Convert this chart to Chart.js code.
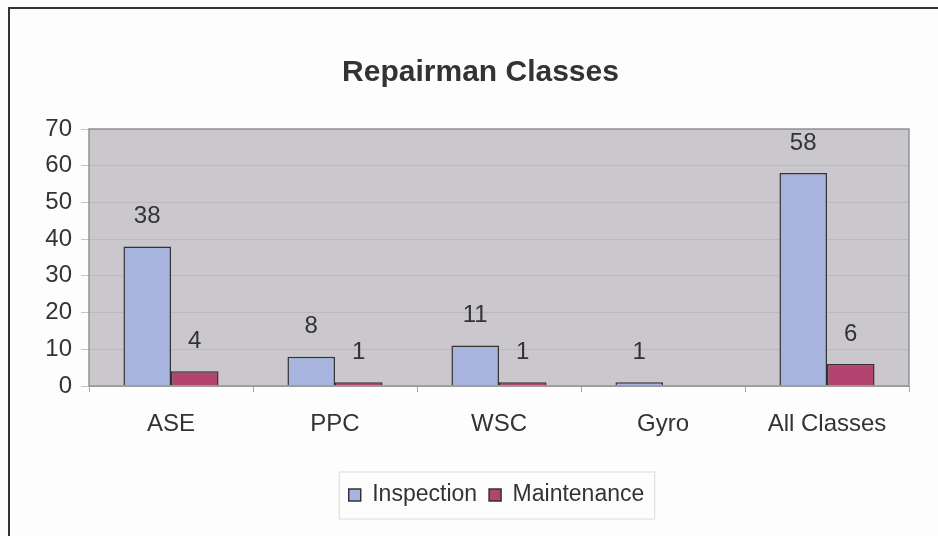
<!DOCTYPE html>
<html>
<head>
<meta charset="utf-8">
<script src="https://cdn.jsdelivr.net/npm/chart.js@4/dist/chart.umd.min.js"></script>
<style>
  html, body { margin: 0; padding: 0; background: #fdfdfd; overflow: hidden; }
  #wrap { position: relative; width: 938px; height: 536px; }
  #frame { position: absolute; left: 8px; top: 7px; right: -10px; bottom: -10px;
           border-top: 2px solid #333; border-left: 2px solid #333; pointer-events: none; }
</style>
</head>
<body>
<div id="wrap">
  <canvas id="repairChart" width="938" height="536"></canvas>
  <div id="frame"></div>
</div>
<script>
var categories = ['ASE', 'PPC', 'WSC', 'Gyro', 'All Classes'];
var inspection = [38, 8, 11, 1, 58];
var maintenance = [4, 1, 1, null, 6];
var yTicks = [0, 10, 20, 30, 40, 50, 60, 70];

var textColor = '#333333';
var baseFont = 'Liberation Sans, Arial, sans-serif';

// gray plot area with a thin border, title and legend nudged right like the original
var plotBackground = {
  id: 'plotBackground',
  afterLayout: function (chart) {
    if (chart.titleBlock) { chart.titleBlock.left += 26; chart.titleBlock.right += 26; }
    if (chart.legend) { chart.legend.left += 42; chart.legend.right += 42; }
  },
  beforeDraw: function (chart) {
    var a = chart.chartArea, ctx = chart.ctx;
    ctx.save();
    ctx.fillStyle = '#cbc8cd';
    ctx.fillRect(a.left, a.top, a.right - a.left, a.bottom - a.top);
    ctx.restore();
  },
  afterDatasetsDraw: function (chart) {
    var a = chart.chartArea, ctx = chart.ctx;
    ctx.save();
    ctx.strokeStyle = '#929292';
    ctx.lineWidth = 1.5;
    ctx.strokeRect(a.left, a.top, a.right - a.left, a.bottom - a.top);
    ctx.restore();
  }
};

// value labels above bars
var valueLabels = {
  id: 'valueLabels',
  afterDatasetsDraw: function (chart) {
    var ctx = chart.ctx;
    ctx.save();
    ctx.font = '24px ' + baseFont;
    ctx.fillStyle = textColor;
    ctx.textAlign = 'center';
    ctx.textBaseline = 'middle';
    chart.data.datasets.forEach(function (ds, i) {
      chart.getDatasetMeta(i).data.forEach(function (bar, j) {
        var v = ds.data[j];
        if (v === null || v === 0) return;
        ctx.fillText(String(v), bar.x, bar.y - 30);
      });
    });
    ctx.restore();
  }
};

// light frame round the legend
var legendFrame = {
  id: 'legendFrame',
  afterDraw: function (chart) {
    var boxes = chart.legend.legendHitBoxes;
    if (!boxes || !boxes.length) return;
    var left = Math.min.apply(null, boxes.map(function (b) { return b.left; }));
    var right = Math.max.apply(null, boxes.map(function (b) { return b.left + b.width; }));
    var top = boxes[0].top, bottom = boxes[0].top + boxes[0].height;
    var ctx = chart.ctx;
    ctx.save();
    ctx.strokeStyle = '#dcdcdc';
    ctx.lineWidth = 1;
    ctx.strokeRect(left - 9.5, top - 11.5, right - left + 20, bottom - top + 24);
    ctx.restore();
  }
};

var ctx = document.getElementById('repairChart');
var repairChart = new Chart(ctx, {
  type: 'bar',
  data: {
    labels: categories,
    datasets: [{
      label: 'Inspection',
      data: inspection,
      backgroundColor: '#a7b4de',
      borderColor: '#333333',
      borderWidth: 1.5,
      barPercentage: 1,
      categoryPercentage: 0.58
    }, {
      label: 'Maintenance',
      data: maintenance,
      backgroundColor: '#b3436f',
      borderColor: '#333333',
      borderWidth: 1.5,
      barPercentage: 1,
      categoryPercentage: 0.58
    }]
  },
  options: {
    responsive: false,
    animation: false,
    layout: { padding: { left: 0, right: 29, top: 0, bottom: 19.5 } },
    plugins: {
      title: {
        display: true,
        text: 'Repairman Classes',
        color: textColor,
        font: { family: baseFont, size: 30, weight: 'bold' },
        padding: { top: 55, bottom: 38 }
      },
      legend: {
        position: 'bottom',
        labels: {
          color: textColor,
          font: { family: baseFont, size: 23 },
          boxWidth: 12,
          boxHeight: 12,
          padding: 12
        }
      },
      tooltip: { enabled: false }
    },
    scales: {
      x: {
        grid: { display: true, drawOnChartArea: false, tickLength: 6, color: '#a8a8a8', offset: true },
        border: { display: false },
        ticks: { color: textColor, font: { family: baseFont, size: 24 }, padding: 18 },
        afterFit: function (scale) { scale.height = 85.5; }
      },
      y: {
        min: 0,
        max: 70,
        afterBuildTicks: function (scale) {
          scale.ticks = yTicks.map(function (v) { return { value: v }; });
        },
        grid: { color: '#bbb8be', tickColor: '#c4c4c4', tickLength: 8 },
        border: { display: false },
        ticks: { color: textColor, font: { family: baseFont, size: 24 }, padding: 9 },
        afterFit: function (scale) { scale.width = 89; }
      }
    }
  },
  plugins: [plotBackground, valueLabels, legendFrame]
});
</script>
</body>
</html>
